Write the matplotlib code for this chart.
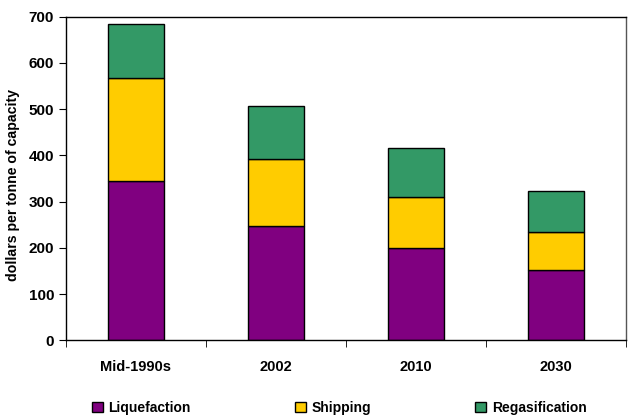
import numpy as np
import matplotlib.pyplot as plt

categories = ['Mid-1990s', '2002', '2010', '2030']
liquefaction = [345, 248, 200, 152]
shipping = [222, 144, 110, 83]
regasification = [118, 115, 105, 87]

plt.rcParams['font.family'] = ['Liberation Sans', 'DejaVu Sans']
plt.rcParams['font.weight'] = 'bold'

fig = plt.figure(figsize=(6.4, 4.2), dpi=100)
ax = fig.add_axes([0.103, 0.19, 0.875, 0.77])

x = np.arange(len(categories))
w = 0.4
liq = np.array(liquefaction)
shp = np.array(shipping)
reg = np.array(regasification)

ax.bar(x, liq, w, color='#800080', edgecolor='black', linewidth=1, label='Liquefaction')
ax.bar(x, shp, w, bottom=liq, color='#FFCC00', edgecolor='black', linewidth=1, label='Shipping')
ax.bar(x, reg, w, bottom=liq + shp, color='#339966', edgecolor='black', linewidth=1, label='Regasification')

ax.set_xlim(-0.5, len(categories) - 0.5)
ax.set_ylim(0, 700)
ax.set_yticks(range(0, 701, 100))
ax.set_xticks(x)
ax.set_xticklabels(categories, fontsize=10.5, fontweight='bold')
ax.set_xticks(np.arange(-0.5, len(categories)), minor=True)
ax.tick_params(axis='x', which='major', length=0, pad=14)
ax.tick_params(axis='x', which='minor', length=5, direction='out')
ax.tick_params(axis='y', length=5, direction='out', labelsize=11)
for lab in ax.get_yticklabels():
    lab.set_fontweight('bold')

ax.set_ylabel('dollars per tonne of capacity', fontsize=10.2, fontweight='bold')
ax.yaxis.set_label_coords(-0.082, 0.48)

for s in ax.spines.values():
    s.set_color('black')
    s.set_linewidth(1)
ax.spines['right'].set_color('#555555')

fig.legend(loc='center', bbox_to_anchor=(0.53, 0.029), ncol=3, frameon=False,
           fontsize=10, columnspacing=7.5, handlelength=0.8, handleheight=0.8,
           handletextpad=0.4, borderpad=0)

fig.savefig('out.png', dpi=100)
